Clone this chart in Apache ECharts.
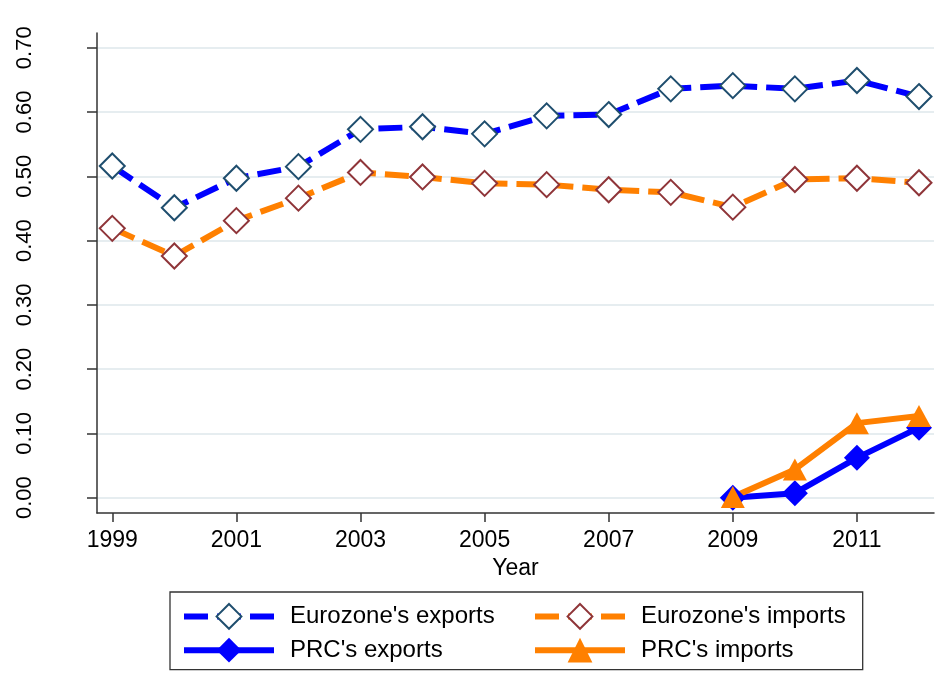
<!DOCTYPE html>
<html>
<head>
<meta charset="utf-8">
<script src="https://cdn.jsdelivr.net/npm/echarts@6/dist/echarts.min.js"></script>
<style>
html, body { margin: 0; padding: 0; background: #fff; }
#main { width: 944px; height: 691px; }
</style>
</head>
<body>
<div id="main"></div>
<script>
// data
var years = [1999, 2000, 2001, 2002, 2003, 2004, 2005, 2006, 2007, 2008, 2009, 2010, 2011, 2012];
var euroExports = [0.516, 0.451, 0.497, 0.515, 0.573, 0.577, 0.566, 0.594, 0.596, 0.636, 0.641, 0.636, 0.649, 0.624];
var euroImports = [0.419, 0.376, 0.431, 0.466, 0.506, 0.499, 0.489, 0.487, 0.479, 0.475, 0.452, 0.495, 0.497, 0.490];
var prcYears = [2009, 2010, 2011, 2012];
var prcExports = [0.000, 0.007, 0.062, 0.109];
var prcImports = [0.001, 0.044, 0.116, 0.127];
var yearTicks = [1999, 2001, 2003, 2005, 2007, 2009, 2011];
var shareTicks = [0, 0.1, 0.2, 0.3, 0.4, 0.5, 0.6, 0.7];
var seriesNames = ["Eurozone's exports", "Eurozone's imports", "PRC's exports", "PRC's imports"];

function pairs(xs, ys) {
    return xs.map(function (x, i) { return [x, ys[i]]; });
}

var font = '"Liberation Sans", Arial, sans-serif';
var blue = '#0000ff', orange = '#ff8000', navy = '#1f4e6e', maroon = '#8f3539';
var axisColor = '#333';

var chart = echarts.init(document.getElementById('main'));

// legend is split in two columns; the left one carries the frame
var legendCommon = {
    orient: 'vertical',
    top: 592,
    itemGap: 8,
    itemWidth: 90,
    itemHeight: 31,
    lineStyle: { width: 6 },
    formatter: '{t|{name}}',
    textStyle: {
        fontSize: 24,
        color: '#000',
        fontFamily: font,
        rich: {
            t: { padding: [0, 0, 0, 11], fontSize: 24, fontFamily: font, color: '#000' }
        }
    }
};

var option = {
    animation: false,
    backgroundColor: '#fff',
    textStyle: { fontFamily: font, color: '#000' },
    grid: { left: 97, right: 10, top: 33, bottom: 178, containLabel: false },
    xAxis: {
        type: 'value',
        min: 1998.754,
        max: 2012.242,
        name: 'Year',
        nameLocation: 'middle',
        nameGap: 40,
        nameTextStyle: { fontSize: 23, color: '#000', fontFamily: font },
        axisLine: { show: true, onZero: false, lineStyle: { color: axisColor, width: 1.5 } },
        axisTick: { show: true, length: 9, customValues: yearTicks, lineStyle: { color: axisColor, width: 1.5 } },
        axisLabel: {
            customValues: yearTicks,
            margin: 16,
            fontSize: 23,
            color: '#000',
            fontFamily: font,
            formatter: function (v) { return String(v); }
        },
        splitLine: { show: false }
    },
    yAxis: {
        type: 'value',
        min: -0.0238,
        max: 0.7229,
        axisLine: { show: true, onZero: false, lineStyle: { color: axisColor, width: 1.5 } },
        axisTick: { show: true, length: 10, customValues: shareTicks, lineStyle: { color: axisColor, width: 1.5 } },
        axisLabel: {
            customValues: shareTicks,
            rotate: 90,
            margin: 61,
            fontSize: 22,
            color: '#000',
            fontFamily: font,
            formatter: function (v) { return v.toFixed(2); }
        },
        splitLine: { show: true, lineStyle: { color: '#e6edf0', width: 2 } }
    },
    legend: [
        Object.assign({}, legendCommon, {
            data: [seriesNames[0], seriesNames[2]],
            left: 170,
            padding: [11, 368, 7, 11],
            borderColor: '#333',
            borderWidth: 1.3
        }),
        Object.assign({}, legendCommon, {
            data: [seriesNames[1], seriesNames[3]],
            left: 532,
            padding: [11, 0, 7, 0]
        })
    ],
    series: [
        {
            name: seriesNames[0],
            type: 'line',
            data: pairs(years, euroExports),
            symbol: 'diamond',
            symbolSize: 25,
            showAllSymbol: true,
            lineStyle: { color: blue, width: 6, type: [24, 9], cap: 'butt' },
            itemStyle: { color: '#fff', borderColor: navy, borderWidth: 2 }
        },
        {
            name: seriesNames[1],
            type: 'line',
            data: pairs(years, euroImports),
            symbol: 'diamond',
            symbolSize: 25,
            showAllSymbol: true,
            lineStyle: { color: orange, width: 6, type: [24, 9], cap: 'butt' },
            itemStyle: { color: '#fff', borderColor: maroon, borderWidth: 2 }
        },
        {
            name: seriesNames[2],
            type: 'line',
            data: pairs(prcYears, prcExports),
            symbol: 'diamond',
            symbolSize: 26,
            lineStyle: { color: blue, width: 6 },
            itemStyle: { color: blue }
        },
        {
            name: seriesNames[3],
            type: 'line',
            data: pairs(prcYears, prcImports),
            symbol: 'triangle',
            symbolSize: [24, 22],
            lineStyle: { color: orange, width: 6 },
            itemStyle: { color: orange }
        }
    ]
};

chart.setOption(option);
</script>
</body>
</html>
